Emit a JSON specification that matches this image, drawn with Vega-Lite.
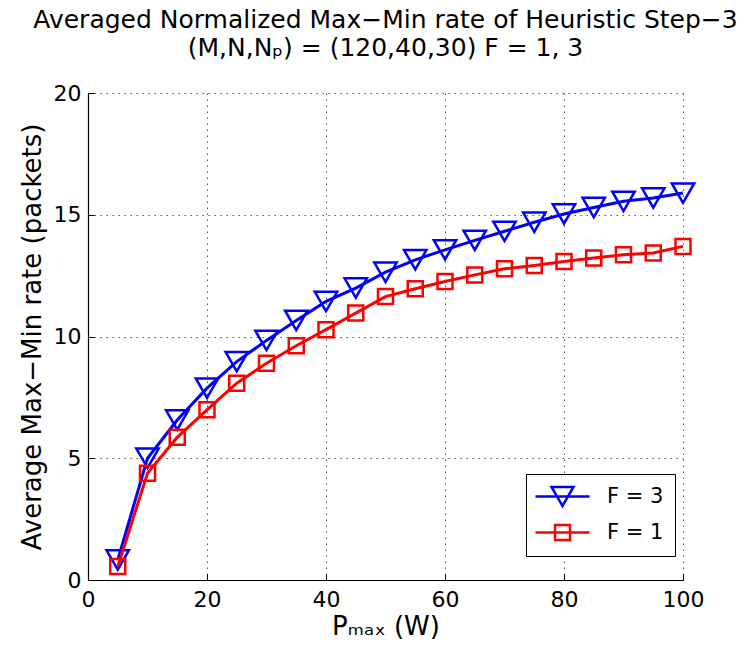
{
  "$schema": "https://vega.github.io/schema/vega-lite/v6.json",
  "width": 595,
  "height": 487,
  "autosize": "none",
  "padding": {"left": 88, "top": 93, "right": 69, "bottom": 81},
  "background": "white",
  "title": {
    "text": ["Averaged Normalized Max−Min rate of Heuristic Step−3", "(M,N,Nₚ) = (120,40,30) F = 1, 3"],
    "font": "DejaVu Sans",
    "fontSize": 25,
    "fontWeight": "normal",
    "color": "black",
    "lineHeight": 28,
    "anchor": "middle",
    "offset": 21
  },
  "config": {
    "view": {"stroke": null},
    "axis": {
      "labelFont": "DejaVu Sans",
      "labelFontSize": 22,
      "labelColor": "black",
      "titleFont": "DejaVu Sans",
      "titleFontSize": 26,
      "titleFontWeight": "normal",
      "titleColor": "black",
      "domainColor": "black",
      "domainWidth": 1.2,
      "tickColor": "black",
      "tickSize": -6,
      "gridColor": "#555555",
      "gridDash": [1.5, 4.5],
      "gridWidth": 1,
      "gridOpacity": 1
    }
  },
  "data": {
    "values": [
      {"P": 5, "rate": 0.82, "series": "F = 3"},
      {"P": 10, "rate": 5.0, "series": "F = 3"},
      {"P": 15, "rate": 6.57, "series": "F = 3"},
      {"P": 20, "rate": 7.88, "series": "F = 3"},
      {"P": 25, "rate": 8.97, "series": "F = 3"},
      {"P": 30, "rate": 9.84, "series": "F = 3"},
      {"P": 35, "rate": 10.66, "series": "F = 3"},
      {"P": 40, "rate": 11.44, "series": "F = 3"},
      {"P": 45, "rate": 11.99, "series": "F = 3"},
      {"P": 50, "rate": 12.64, "series": "F = 3"},
      {"P": 55, "rate": 13.15, "series": "F = 3"},
      {"P": 60, "rate": 13.56, "series": "F = 3"},
      {"P": 65, "rate": 13.95, "series": "F = 3"},
      {"P": 70, "rate": 14.32, "series": "F = 3"},
      {"P": 75, "rate": 14.69, "series": "F = 3"},
      {"P": 80, "rate": 15.03, "series": "F = 3"},
      {"P": 85, "rate": 15.3, "series": "F = 3"},
      {"P": 90, "rate": 15.55, "series": "F = 3"},
      {"P": 95, "rate": 15.69, "series": "F = 3"},
      {"P": 100, "rate": 15.89, "series": "F = 3"},
      {"P": 5, "rate": 0.55, "series": "F = 1"},
      {"P": 10, "rate": 4.38, "series": "F = 1"},
      {"P": 15, "rate": 5.86, "series": "F = 1"},
      {"P": 20, "rate": 6.99, "series": "F = 1"},
      {"P": 25, "rate": 8.08, "series": "F = 1"},
      {"P": 30, "rate": 8.9, "series": "F = 1"},
      {"P": 35, "rate": 9.62, "series": "F = 1"},
      {"P": 40, "rate": 10.28, "series": "F = 1"},
      {"P": 45, "rate": 10.96, "series": "F = 1"},
      {"P": 50, "rate": 11.64, "series": "F = 1"},
      {"P": 55, "rate": 11.96, "series": "F = 1"},
      {"P": 60, "rate": 12.26, "series": "F = 1"},
      {"P": 65, "rate": 12.53, "series": "F = 1"},
      {"P": 70, "rate": 12.78, "series": "F = 1"},
      {"P": 75, "rate": 12.92, "series": "F = 1"},
      {"P": 80, "rate": 13.08, "series": "F = 1"},
      {"P": 85, "rate": 13.22, "series": "F = 1"},
      {"P": 90, "rate": 13.36, "series": "F = 1"},
      {"P": 95, "rate": 13.43, "series": "F = 1"},
      {"P": 100, "rate": 13.7, "series": "F = 1"}
    ]
  },
  "encoding": {
    "x": {
      "field": "P",
      "type": "quantitative",
      "scale": {"domain": [0, 100], "nice": false, "zero": false},
      "axis": {"values": [0, 20, 40, 60, 80, 100], "title": "Pₘₐₓ (W)", "labelPadding": 15, "titlePadding": 3, "labelFlush": false}
    },
    "y": {
      "field": "rate",
      "type": "quantitative",
      "scale": {"domain": [0, 20], "nice": false},
      "axis": {"values": [0, 5, 10, 15, 20], "title": "Average Max−Min rate (packets)", "labelPadding": 13, "titlePadding": 8, "labelFlush": false}
    },
    "color": {
      "field": "series",
      "type": "nominal",
      "sort": ["F = 3", "F = 1"],
      "scale": {"domain": ["F = 3", "F = 1"], "range": ["#0000ff", "#ff0000"]},
      "legend": {
        "title": null,
        "orient": "none",
        "legendX": 438,
        "legendY": 381,
        "strokeColor": "black",
        "fillColor": "white",
        "padding": 11,
        "labelFont": "DejaVu Sans",
        "labelFontSize": 21,
        "labelColor": "black",
        "labelOffset": 33,
        "symbolOffset": 14,
        "symbolSize": 400,
        "symbolStrokeWidth": 2.5,
        "symbolFillColor": "transparent",
        "rowPadding": 9,
        "cornerRadius": 0,
        "encode": {
          "symbols": {
            "update": {
              "shape": {"signal": "datum.value === 'F = 3' ? 'M-2.7,0H2.7M-1.1,-0.95H1.1L0,0.95Z' : 'M-2.7,0H2.7M-0.75,-0.75H0.75V0.75H-0.75Z'"}
            }
          }
        }
      }
    }
  },
  "layer": [
    {
      "transform": [{"filter": "datum.series === 'F = 3'"}],
      "mark": {"type": "line", "strokeWidth": 3},
      "encoding": {}
    },
    {
      "transform": [{"filter": "datum.series === 'F = 3'"}],
      "mark": {"type": "point", "filled": false, "strokeWidth": 2.5, "opacity": 1, "shape": "triangle-down", "size": 500},
      "encoding": {}
    },
    {
      "transform": [{"filter": "datum.series === 'F = 1'"}],
      "mark": {"type": "line", "strokeWidth": 3},
      "encoding": {}
    },
    {
      "transform": [{"filter": "datum.series === 'F = 1'"}],
      "mark": {"type": "point", "filled": false, "strokeWidth": 2.5, "opacity": 1, "shape": "square", "size": 225},
      "encoding": {}
    }
  ]
}
